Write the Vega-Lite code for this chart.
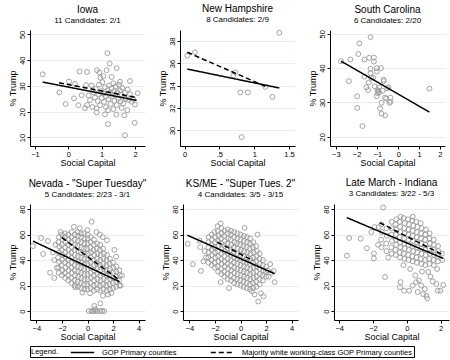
{
"$schema": "https://vega.github.io/schema/vega-lite/v6.json",
"background": "white",
"padding": {"left": 7, "top": 3, "right": 1, "bottom": 1},
"datasets": {
"ia": [{"x":-0.77,"y":34.5},{"x":-0.27,"y":27.5},{"x":-0.08,"y":23},{"x":0.02,"y":31.7},{"x":0.17,"y":25.2},{"x":0.2,"y":30.8},{"x":0.34,"y":35.6},{"x":0.56,"y":35.4},{"x":0.5,"y":21.4},{"x":0.56,"y":22.6},{"x":0.53,"y":30.3},{"x":0.61,"y":26.3},{"x":0.86,"y":36.1},{"x":0.93,"y":35.2},{"x":0.96,"y":33.2},{"x":1.17,"y":42.7},{"x":1.24,"y":38.7},{"x":1.15,"y":36.1},{"x":1.45,"y":36.9},{"x":1.19,"y":20.6},{"x":1.19,"y":15.2},{"x":1.44,"y":18.9},{"x":1.7,"y":10.9},{"x":1.68,"y":18.6},{"x":1.77,"y":20.6},{"x":1.85,"y":31.9},{"x":1.99,"y":15.7},{"x":2.08,"y":27.2},{"x":1.9,"y":23.9},{"x":0.85,"y":19.7},{"x":0.85,"y":21.3},{"x":0.75,"y":27.5},{"x":0.8,"y":25.5},{"x":0.82,"y":28.8},{"x":0.88,"y":24.2},{"x":0.9,"y":26.8},{"x":0.92,"y":30.5},{"x":0.95,"y":22.5},{"x":0.98,"y":28},{"x":1.0,"y":25.3},{"x":1.02,"y":31.5},{"x":1.05,"y":27},{"x":1.07,"y":23.8},{"x":1.1,"y":29.5},{"x":1.12,"y":26},{"x":1.13,"y":21.8},{"x":1.18,"y":28.3},{"x":1.2,"y":24.8},{"x":1.22,"y":30.2},{"x":1.25,"y":27.4},{"x":1.27,"y":23},{"x":1.3,"y":29},{"x":1.32,"y":25.9},{"x":1.35,"y":31},{"x":1.37,"y":28},{"x":1.38,"y":24.2},{"x":1.4,"y":26.6},{"x":1.42,"y":29.8},{"x":1.45,"y":22.6},{"x":1.47,"y":27.5},{"x":1.5,"y":25},{"x":1.52,"y":30.5},{"x":1.55,"y":28.3},{"x":1.57,"y":24},{"x":1.6,"y":26.5},{"x":1.62,"y":29.2},{"x":1.65,"y":23.2},{"x":1.7,"y":27.3},{"x":1.72,"y":25},{"x":1.78,"y":28.6},{"x":1.8,"y":24.6},{"x":1.85,"y":26.8},{"x":1.95,"y":24.9},{"x":2.0,"y":22.8},{"x":0.65,"y":24.5},{"x":0.7,"y":30.2},{"x":0.72,"y":21.8},{"x":1.05,"y":33.8},{"x":1.3,"y":33.5},{"x":1.55,"y":31.6},{"x":0.4,"y":26.4},{"x":0.3,"y":22.5},{"x":1.1,"y":19},{"x":1.35,"y":21},{"x":1.6,"y":21.5}],
"nh": [{"x":0.04,"y":36.7},{"x":0.15,"y":37.0},{"x":0.73,"y":35.2},{"x":0.7,"y":34.9},{"x":0.8,"y":33.4},{"x":0.91,"y":33.4},{"x":1.16,"y":33.9},{"x":1.26,"y":33.0},{"x":1.36,"y":38.75},{"x":0.82,"y":29.4}],
"sc": [{"x":-2.75,"y":42.0},{"x":-2.3,"y":42.5},{"x":-2.37,"y":36.2},{"x":-1.97,"y":31.8},{"x":-1.97,"y":28.4},{"x":-1.72,"y":23.1},{"x":-1.87,"y":47.2},{"x":-1.92,"y":44.1},{"x":-1.62,"y":42.5},{"x":-1.4,"y":43.0},{"x":-1.33,"y":49.0},{"x":-1.17,"y":43.1},{"x":-1.17,"y":41.9},{"x":-1.53,"y":34.4},{"x":-1.45,"y":33.6},{"x":-1.42,"y":35.8},{"x":-1.62,"y":37.5},{"x":-1.33,"y":39.8},{"x":-1.33,"y":38.5},{"x":-1.3,"y":37.2},{"x":-1.03,"y":40.0},{"x":-1.03,"y":39.0},{"x":-0.83,"y":40.0},{"x":-1.13,"y":34.7},{"x":-1.0,"y":33.6},{"x":-0.95,"y":33.4},{"x":-0.92,"y":34.4},{"x":-0.7,"y":36.6},{"x":-0.7,"y":36.2},{"x":-1.03,"y":31.8},{"x":-1.0,"y":32.7},{"x":-0.75,"y":33.4},{"x":-0.63,"y":31.4},{"x":-0.58,"y":31.1},{"x":-0.53,"y":34.1},{"x":-0.47,"y":34.4},{"x":-0.42,"y":29.9},{"x":-0.37,"y":31.4},{"x":-0.37,"y":30.2},{"x":-0.87,"y":28.2},{"x":-0.8,"y":26.7},{"x":-0.63,"y":26.2},{"x":-0.8,"y":29.9},{"x":1.5,"y":34.0},{"x":-0.92,"y":32.9},{"x":-1.2,"y":37.2}],
"nv": [{"x":-2.25,"y":30},{"x":-2.28,"y":34},{"x":-2.22,"y":38.5},{"x":-2.3,"y":42},{"x":-2.24,"y":46},{"x":-2.2,"y":50.5},{"x":-2.27,"y":54},{"x":-2.23,"y":58},
{"x":-2.0,"y":28},{"x":-1.97,"y":32},{"x":-2.03,"y":36},{"x":-2.0,"y":40.5},{"x":-1.98,"y":44},{"x":-2.02,"y":48},{"x":-2.0,"y":52},{"x":-1.96,"y":56.5},{"x":-2.01,"y":60},
{"x":-1.75,"y":26},{"x":-1.77,"y":30},{"x":-1.73,"y":34},{"x":-1.75,"y":38},{"x":-1.76,"y":42.5},{"x":-1.74,"y":46},{"x":-1.75,"y":50},{"x":-1.72,"y":54},{"x":-1.78,"y":58},{"x":-1.75,"y":61},
{"x":-1.5,"y":24},{"x":-1.52,"y":28},{"x":-1.48,"y":32},{"x":-1.5,"y":36.5},{"x":-1.51,"y":40},{"x":-1.49,"y":44},{"x":-1.5,"y":48},{"x":-1.53,"y":52},{"x":-1.47,"y":56},{"x":-1.5,"y":60},
{"x":-1.25,"y":22},{"x":-1.27,"y":26},{"x":-1.23,"y":30},{"x":-1.25,"y":34},{"x":-1.26,"y":38},{"x":-1.24,"y":42},{"x":-1.25,"y":46},{"x":-1.22,"y":50},{"x":-1.28,"y":54},{"x":-1.25,"y":58},{"x":-1.24,"y":62},
{"x":-1.0,"y":20},{"x":-1.02,"y":24},{"x":-0.98,"y":28},{"x":-1.0,"y":32},{"x":-1.01,"y":36},{"x":-0.99,"y":40},{"x":-1.0,"y":44},{"x":-1.03,"y":48},{"x":-0.97,"y":52},{"x":-1.0,"y":56},{"x":-1.0,"y":60},
{"x":-0.75,"y":19},{"x":-0.77,"y":23},{"x":-0.73,"y":27},{"x":-0.75,"y":31},{"x":-0.76,"y":35},{"x":-0.74,"y":39},{"x":-0.75,"y":43},{"x":-0.72,"y":47},{"x":-0.78,"y":51},{"x":-0.75,"y":55},{"x":-0.74,"y":59},{"x":-0.76,"y":62},
{"x":-0.5,"y":18},{"x":-0.52,"y":22},{"x":-0.48,"y":26},{"x":-0.5,"y":30},{"x":-0.51,"y":34},{"x":-0.49,"y":38},{"x":-0.5,"y":42},{"x":-0.53,"y":46},{"x":-0.47,"y":50},{"x":-0.5,"y":54},{"x":-0.5,"y":58},{"x":-0.51,"y":61},
{"x":-0.25,"y":17},{"x":-0.27,"y":21},{"x":-0.23,"y":25},{"x":-0.25,"y":29},{"x":-0.26,"y":33},{"x":-0.24,"y":37},{"x":-0.25,"y":41},{"x":-0.22,"y":45},{"x":-0.28,"y":49},{"x":-0.25,"y":53},{"x":-0.24,"y":57},{"x":-0.26,"y":61},
{"x":0.0,"y":17},{"x":-0.02,"y":21},{"x":0.02,"y":25},{"x":0.0,"y":29},{"x":0.01,"y":33},{"x":-0.01,"y":37},{"x":0.0,"y":41},{"x":0.03,"y":45},{"x":-0.03,"y":49},{"x":0.0,"y":53},{"x":0.01,"y":57},{"x":0.0,"y":60},
{"x":0.25,"y":18},{"x":0.23,"y":22},{"x":0.27,"y":26},{"x":0.25,"y":30},{"x":0.26,"y":34},{"x":0.24,"y":38},{"x":0.25,"y":42},{"x":0.28,"y":46},{"x":0.22,"y":50},{"x":0.25,"y":54},{"x":0.26,"y":58},
{"x":0.5,"y":16},{"x":0.48,"y":20},{"x":0.52,"y":24},{"x":0.5,"y":28},{"x":0.51,"y":32},{"x":0.49,"y":36},{"x":0.5,"y":40},{"x":0.53,"y":44},{"x":0.47,"y":48},{"x":0.5,"y":52},{"x":0.5,"y":56},
{"x":0.75,"y":17},{"x":0.73,"y":21},{"x":0.77,"y":25},{"x":0.75,"y":29},{"x":0.76,"y":33},{"x":0.74,"y":37},{"x":0.75,"y":41},{"x":0.78,"y":45},{"x":0.72,"y":49},{"x":0.75,"y":53},
{"x":1.0,"y":16},{"x":0.98,"y":20},{"x":1.02,"y":24},{"x":1.0,"y":28},{"x":1.01,"y":32},{"x":0.99,"y":36},{"x":1.0,"y":40},{"x":1.03,"y":44},{"x":0.97,"y":48},{"x":1.0,"y":52},
{"x":1.25,"y":17},{"x":1.23,"y":21},{"x":1.27,"y":25},{"x":1.25,"y":29},{"x":1.26,"y":33},{"x":1.24,"y":37},{"x":1.25,"y":41},{"x":1.28,"y":45},{"x":1.22,"y":49},
{"x":1.5,"y":16},{"x":1.48,"y":20},{"x":1.52,"y":24},{"x":1.5,"y":28},{"x":1.51,"y":32},{"x":1.49,"y":36},{"x":1.5,"y":40},{"x":1.53,"y":44},
{"x":1.75,"y":17},{"x":1.73,"y":21},{"x":1.77,"y":25},{"x":1.75,"y":29},{"x":1.76,"y":33},{"x":1.74,"y":37},{"x":1.75,"y":41},
{"x":2.0,"y":18},{"x":1.98,"y":22},{"x":2.02,"y":26},{"x":2.0,"y":30},{"x":2.01,"y":34},{"x":1.99,"y":38},
{"x":2.25,"y":19},{"x":2.23,"y":23},{"x":2.27,"y":27},{"x":2.25,"y":31},{"x":2.26,"y":35},
{"x":2.5,"y":20},{"x":2.48,"y":24},{"x":2.52,"y":28},{"x":2.5,"y":32},
{"x":-4.27,"y":51},{"x":-3.63,"y":57.3},{"x":-3.47,"y":44.8},{"x":-2.93,"y":30.1},{"x":0.32,"y":70.1},{"x":-1.07,"y":66.1},{"x":1.52,"y":55.5},{"x":2.24,"y":42.7},{"x":0.0,"y":63.5},{"x":0.95,"y":60},{"x":0.1,"y":0},{"x":0.3,"y":0},{"x":0.45,"y":0},{"x":0.6,"y":0},{"x":0.75,"y":0},{"x":1.0,"y":0},{"x":1.15,"y":0},{"x":1.3,"y":0},{"x":1.0,"y":6.1},{"x":0.53,"y":4},{"x":0.6,"y":1.5},{"x":-0.96,"y":18.7},{"x":1.87,"y":14.1},{"x":2.6,"y":20},{"x":-2.6,"y":40},{"x":-2.5,"y":52},{"x":-2.4,"y":34},{"x":-2.7,"y":46},{"x":1.2,"y":58},{"x":2.7,"y":28},{"x":1.6,"y":13},{"x":0.2,"y":14},{"x":-0.4,"y":14.5},{"x":2.1,"y":48},{"x":-2.1,"y":62},{"x":-0.6,"y":65},{"x":0.7,"y":62},{"x":-3.1,"y":55},{"x":-2.6,"y":26},{"x":1.2,"y":12}],
"ks": [{"x":-2.5,"y":38},{"x":-2.52,"y":42},{"x":-2.48,"y":46},{"x":-2.5,"y":50},{"x":-2.51,"y":54},{"x":-2.49,"y":58},
{"x":-2.25,"y":36},{"x":-2.27,"y":40},{"x":-2.23,"y":44},{"x":-2.25,"y":48},{"x":-2.26,"y":52},{"x":-2.24,"y":56},{"x":-2.25,"y":60},
{"x":-2.0,"y":34},{"x":-2.02,"y":38},{"x":-1.98,"y":42},{"x":-2.0,"y":46},{"x":-2.01,"y":50},{"x":-1.99,"y":54},{"x":-2.0,"y":58},{"x":-2.03,"y":62},
{"x":-1.75,"y":31},{"x":-1.77,"y":35},{"x":-1.73,"y":39},{"x":-1.75,"y":43},{"x":-1.76,"y":47},{"x":-1.74,"y":51},{"x":-1.75,"y":55},{"x":-1.72,"y":59},{"x":-1.78,"y":63},
{"x":-1.5,"y":29},{"x":-1.52,"y":33},{"x":-1.48,"y":37},{"x":-1.5,"y":41},{"x":-1.51,"y":45},{"x":-1.49,"y":49},{"x":-1.5,"y":53},{"x":-1.53,"y":57},{"x":-1.47,"y":61},{"x":-1.5,"y":65},
{"x":-1.25,"y":27},{"x":-1.27,"y":31},{"x":-1.23,"y":35},{"x":-1.25,"y":39},{"x":-1.26,"y":43},{"x":-1.24,"y":47},{"x":-1.25,"y":51},{"x":-1.22,"y":55},{"x":-1.28,"y":59},{"x":-1.25,"y":63},
{"x":-1.0,"y":25},{"x":-1.02,"y":29},{"x":-0.98,"y":33},{"x":-1.0,"y":37},{"x":-1.01,"y":41},{"x":-0.99,"y":45},{"x":-1.0,"y":49},{"x":-1.03,"y":53},{"x":-0.97,"y":57},{"x":-1.0,"y":61},{"x":-1.0,"y":64},
{"x":-0.75,"y":24},{"x":-0.77,"y":28},{"x":-0.73,"y":32},{"x":-0.75,"y":36},{"x":-0.76,"y":40},{"x":-0.74,"y":44},{"x":-0.75,"y":48},{"x":-0.72,"y":52},{"x":-0.78,"y":56},{"x":-0.75,"y":60},{"x":-0.74,"y":63},
{"x":-0.5,"y":22},{"x":-0.52,"y":26},{"x":-0.48,"y":30},{"x":-0.5,"y":34},{"x":-0.51,"y":38},{"x":-0.49,"y":42},{"x":-0.5,"y":46},{"x":-0.53,"y":50},{"x":-0.47,"y":54},{"x":-0.5,"y":58},{"x":-0.5,"y":62},
{"x":-0.25,"y":21},{"x":-0.27,"y":25},{"x":-0.23,"y":29},{"x":-0.25,"y":33},{"x":-0.26,"y":37},{"x":-0.24,"y":41},{"x":-0.25,"y":45},{"x":-0.22,"y":49},{"x":-0.28,"y":53},{"x":-0.25,"y":57},{"x":-0.24,"y":61},
{"x":0.0,"y":20},{"x":-0.02,"y":24},{"x":0.02,"y":28},{"x":0.0,"y":32},{"x":0.01,"y":36},{"x":-0.01,"y":40},{"x":0.0,"y":44},{"x":0.03,"y":48},{"x":-0.03,"y":52},{"x":0.0,"y":56},{"x":0.0,"y":60},
{"x":0.25,"y":19},{"x":0.23,"y":23},{"x":0.27,"y":27},{"x":0.25,"y":31},{"x":0.26,"y":35},{"x":0.24,"y":39},{"x":0.25,"y":43},{"x":0.28,"y":47},{"x":0.22,"y":51},{"x":0.25,"y":55},{"x":0.26,"y":59},
{"x":0.5,"y":18},{"x":0.48,"y":22},{"x":0.52,"y":26},{"x":0.5,"y":30},{"x":0.51,"y":34},{"x":0.49,"y":38},{"x":0.5,"y":42},{"x":0.53,"y":46},{"x":0.47,"y":50},{"x":0.5,"y":54},{"x":0.5,"y":58},
{"x":0.75,"y":17},{"x":0.73,"y":21},{"x":0.77,"y":25},{"x":0.75,"y":29},{"x":0.76,"y":33},{"x":0.74,"y":37},{"x":0.75,"y":41},{"x":0.78,"y":45},{"x":0.72,"y":49},{"x":0.75,"y":53},{"x":0.75,"y":57},
{"x":1.0,"y":18},{"x":0.98,"y":22},{"x":1.02,"y":26},{"x":1.0,"y":30},{"x":1.01,"y":34},{"x":0.99,"y":38},{"x":1.0,"y":42},{"x":1.03,"y":46},{"x":0.97,"y":50},{"x":1.0,"y":54},
{"x":1.25,"y":19},{"x":1.23,"y":23},{"x":1.27,"y":27},{"x":1.25,"y":31},{"x":1.26,"y":35},{"x":1.24,"y":39},{"x":1.25,"y":43},{"x":1.28,"y":47},{"x":1.22,"y":51},
{"x":1.5,"y":21},{"x":1.48,"y":25},{"x":1.52,"y":29},{"x":1.5,"y":33},{"x":1.51,"y":37},{"x":1.49,"y":41},{"x":1.5,"y":45},
{"x":1.75,"y":24},{"x":1.73,"y":28},{"x":1.77,"y":32},{"x":1.75,"y":36},{"x":1.76,"y":40},
{"x":2.0,"y":27},{"x":1.98,"y":31},{"x":2.02,"y":35},
{"x":-4.13,"y":52.8},{"x":-3.73,"y":36.8},{"x":-3.15,"y":50.1},{"x":-3.2,"y":55.2},{"x":-3.1,"y":31.5},{"x":-1.55,"y":68.8},{"x":-1.55,"y":22.7},{"x":0.32,"y":65.3},{"x":1.33,"y":60},{"x":1.39,"y":7.5},{"x":1.79,"y":11.5},{"x":2.67,"y":22.7},{"x":2.32,"y":36.8},{"x":2.13,"y":32},{"x":2.6,"y":31.5},{"x":-2.8,"y":47},{"x":-2.7,"y":42},{"x":-1.8,"y":66.5},{"x":1.6,"y":14},{"x":1.1,"y":13},{"x":0.9,"y":15.5},{"x":-0.9,"y":18},{"x":2.2,"y":27},{"x":2.4,"y":30},{"x":-2.9,"y":39}],
"in": [{"x":-1.5,"y":50},{"x":-1.52,"y":56},{"x":-1.48,"y":62},{"x":-1.5,"y":68},
{"x":-1.2,"y":47},{"x":-1.22,"y":53},{"x":-1.18,"y":59},{"x":-1.2,"y":65},
{"x":-0.9,"y":45},{"x":-0.92,"y":50},{"x":-0.88,"y":55},{"x":-0.9,"y":60},{"x":-0.91,"y":65},{"x":-0.89,"y":70},
{"x":-0.65,"y":44},{"x":-0.67,"y":48},{"x":-0.63,"y":52},{"x":-0.65,"y":56},{"x":-0.66,"y":60},{"x":-0.64,"y":64},{"x":-0.65,"y":68},{"x":-0.62,"y":72},
{"x":-0.4,"y":42},{"x":-0.42,"y":46},{"x":-0.38,"y":50},{"x":-0.4,"y":54},{"x":-0.41,"y":58},{"x":-0.39,"y":62},{"x":-0.4,"y":66},{"x":-0.43,"y":70},{"x":-0.37,"y":74},
{"x":-0.15,"y":41},{"x":-0.17,"y":45},{"x":-0.13,"y":49},{"x":-0.15,"y":53},{"x":-0.16,"y":57},{"x":-0.14,"y":61},{"x":-0.15,"y":65},{"x":-0.12,"y":69},{"x":-0.18,"y":73},
{"x":0.1,"y":40},{"x":0.08,"y":44},{"x":0.12,"y":48},{"x":0.1,"y":52},{"x":0.11,"y":56},{"x":0.09,"y":60},{"x":0.1,"y":64},{"x":0.13,"y":68},{"x":0.07,"y":72},
{"x":0.35,"y":39},{"x":0.33,"y":43},{"x":0.37,"y":47},{"x":0.35,"y":51},{"x":0.36,"y":55},{"x":0.34,"y":59},{"x":0.35,"y":63},{"x":0.38,"y":67},{"x":0.32,"y":71},{"x":0.35,"y":74},
{"x":0.6,"y":38},{"x":0.58,"y":42},{"x":0.62,"y":46},{"x":0.6,"y":50},{"x":0.61,"y":54},{"x":0.59,"y":58},{"x":0.6,"y":62},{"x":0.63,"y":66},{"x":0.57,"y":70},
{"x":0.85,"y":37},{"x":0.83,"y":41},{"x":0.87,"y":45},{"x":0.85,"y":49},{"x":0.86,"y":53},{"x":0.84,"y":57},{"x":0.85,"y":61},{"x":0.88,"y":65},{"x":0.82,"y":69},
{"x":1.1,"y":36},{"x":1.08,"y":40},{"x":1.12,"y":44},{"x":1.1,"y":48},{"x":1.11,"y":52},{"x":1.09,"y":56},{"x":1.1,"y":60},{"x":1.13,"y":64},
{"x":1.35,"y":37},{"x":1.33,"y":41},{"x":1.37,"y":45},{"x":1.35,"y":49},{"x":1.36,"y":53},{"x":1.34,"y":57},{"x":1.35,"y":61},
{"x":1.6,"y":36},{"x":1.58,"y":40},{"x":1.62,"y":44},{"x":1.6,"y":48},{"x":1.61,"y":52},{"x":1.59,"y":56},
{"x":1.85,"y":39},{"x":1.83,"y":43},{"x":1.87,"y":47},{"x":1.85,"y":51},
{"x":2.1,"y":40},{"x":2.08,"y":45},
{"x":-0.37,"y":22.7},{"x":-0.41,"y":18.7},{"x":-0.16,"y":16},{"x":0.14,"y":16},{"x":0.35,"y":20},{"x":0.55,"y":22.7},{"x":0.72,"y":24},{"x":0.86,"y":20},{"x":0.97,"y":13.3},{"x":1.17,"y":12},{"x":1.07,"y":17.3},{"x":1.21,"y":9.9},{"x":1.54,"y":23.2},{"x":1.75,"y":21.3},{"x":1.83,"y":16},{"x":1.99,"y":16},{"x":2.16,"y":20.5},{"x":1.27,"y":30.7},{"x":0.5,"y":28},{"x":0.9,"y":31},{"x":1.4,"y":27},{"x":0.2,"y":33},{"x":-0.2,"y":36},{"x":1.8,"y":33},{"x":0.65,"y":15},
{"x":-3.55,"y":43.5},{"x":-3.41,"y":57.3},{"x":-2.73,"y":56.8},{"x":-2.36,"y":49.3},{"x":-1.95,"y":45.3},{"x":-1.95,"y":41.3},{"x":-1.4,"y":81.3},{"x":-1.29,"y":26.7},{"x":-1.91,"y":65.9},{"x":-1.66,"y":65.9},{"x":-1.7,"y":52},{"x":-1.1,"y":42},{"x":-2.1,"y":62}],
"lines": [
{"p":"IA","s":"GOP Primary counties","x":-0.77,"y":31.5},{"p":"IA","s":"GOP Primary counties","x":2.05,"y":24.4},
{"p":"IA","s":"Majority white working-class GOP Primary counties","x":-0.28,"y":31.2},{"p":"IA","s":"Majority white working-class GOP Primary counties","x":2.05,"y":25.5},
{"p":"NH","s":"GOP Primary counties","x":0.04,"y":35.5},{"p":"NH","s":"GOP Primary counties","x":1.36,"y":33.8},
{"p":"NH","s":"Majority white working-class GOP Primary counties","x":0.04,"y":37.0},{"p":"NH","s":"Majority white working-class GOP Primary counties","x":1.16,"y":33.95},
{"p":"SC","s":"GOP Primary counties","x":-2.75,"y":42.0},{"p":"SC","s":"GOP Primary counties","x":1.5,"y":27.2},
{"p":"NV","s":"GOP Primary counties","x":-4.27,"y":54.9},{"p":"NV","s":"GOP Primary counties","x":2.51,"y":23.0},
{"p":"NV","s":"Majority white working-class GOP Primary counties","x":-2.0,"y":57.6},{"p":"NV","s":"Majority white working-class GOP Primary counties","x":2.51,"y":24.2},
{"p":"KS","s":"GOP Primary counties","x":-4.16,"y":59.5},{"p":"KS","s":"GOP Primary counties","x":2.67,"y":29.3},
{"p":"KS","s":"Majority white working-class GOP Primary counties","x":-1.81,"y":54.1},{"p":"KS","s":"Majority white working-class GOP Primary counties","x":1.0,"y":39.5},
{"p":"IN","s":"GOP Primary counties","x":-3.55,"y":73.3},{"p":"IN","s":"GOP Primary counties","x":2.16,"y":41.3},
{"p":"IN","s":"Majority white working-class GOP Primary counties","x":-1.6,"y":69.3},{"p":"IN","s":"Majority white working-class GOP Primary counties","x":2.16,"y":44}
]
},
"spacing": 10,
"vconcat": [
{"hconcat": [
{"title": {"text": "Iowa", "subtitle": "11 Candidates: 2/1"}, "width": 115, "height": 116, "layer": [
 {"data": {"name": "ia"}, "mark": {"type": "point", "shape": "circle", "size": 24, "strokeWidth": 0.9, "color": "#9a9a9a", "opacity": 1},
  "encoding": {"x": {"field": "x", "type": "quantitative", "title": "Social Capital", "scale": {"domain": [-1.15, 2.3], "nice": false, "zero": false}, "axis": {"values": [-1, 0, 1, 2], "format": "d", "tickCount": 20, "labelOverlap": false, "labelFlush": false}},
   "y": {"field": "y", "type": "quantitative", "title": "% Trump", "scale": {"domain": [6.7, 51.7], "nice": false, "zero": false}, "axis": {"values": [10, 20, 30, 40, 50], "format": "d", "tickCount": 20, "labelOverlap": false, "labelFlush": false}}}},
 {"data": {"name": "lines"}, "transform": [{"filter": "datum.p == 'IA'"}], "mark": {"type": "line", "color": "black", "strokeWidth": 1.5},
  "encoding": {"x": {"field": "x", "type": "quantitative", "title": "Social Capital"}, "y": {"field": "y", "type": "quantitative", "title": "% Trump"},
   "strokeDash": {"field": "s", "type": "nominal", "scale": {"domain": ["GOP Primary counties", "Majority white working-class GOP Primary counties"], "range": [[1, 0], [5, 3]]}, "legend": {"title": "Legend."}}}}
]},
{"title": {"text": "New Hampshire", "subtitle": "8 Candidates: 2/9"}, "width": 115, "height": 116, "layer": [
 {"data": {"name": "nh"}, "mark": {"type": "point", "shape": "circle", "size": 24, "strokeWidth": 0.9, "color": "#9a9a9a", "opacity": 1},
  "encoding": {"x": {"field": "x", "type": "quantitative", "title": "Social Capital", "scale": {"domain": [-0.065, 1.585], "nice": false, "zero": false}, "axis": {"values": [0, 0.5, 1, 1.5], "tickCount": 20, "labelExpr": "datum.value == 0.5 ? '.5' : format(datum.value, '~g')", "labelOverlap": false, "labelFlush": false}},
   "y": {"field": "y", "type": "quantitative", "title": "% Trump", "scale": {"domain": [28.6, 39.0], "nice": false, "zero": false}, "axis": {"values": [30, 32, 34, 36, 38], "format": "d", "tickCount": 20, "labelOverlap": false, "labelFlush": false}}}},
 {"data": {"name": "lines"}, "transform": [{"filter": "datum.p == 'NH'"}], "mark": {"type": "line", "color": "black", "strokeWidth": 1.5},
  "encoding": {"x": {"field": "x", "type": "quantitative", "title": "Social Capital"}, "y": {"field": "y", "type": "quantitative", "title": "% Trump"},
   "strokeDash": {"field": "s", "type": "nominal", "scale": {"domain": ["GOP Primary counties", "Majority white working-class GOP Primary counties"], "range": [[1, 0], [5, 3]]}, "legend": {"title": "Legend."}}}}
]},
{"title": {"text": "South Carolina", "subtitle": "6 Candidates: 2/20"}, "width": 115, "height": 116, "layer": [
 {"data": {"name": "sc"}, "mark": {"type": "point", "shape": "circle", "size": 24, "strokeWidth": 0.9, "color": "#9a9a9a", "opacity": 1},
  "encoding": {"x": {"field": "x", "type": "quantitative", "title": "Social Capital", "scale": {"domain": [-3.28, 2.25], "nice": false, "zero": false}, "axis": {"values": [-3, -2, -1, 0, 1, 2], "format": "d", "tickCount": 20, "labelOverlap": false, "labelFlush": false}},
   "y": {"field": "y", "type": "quantitative", "title": "% Trump", "scale": {"domain": [17.3, 51.1], "nice": false, "zero": false}, "axis": {"values": [20, 30, 40, 50], "format": "d", "tickCount": 20, "labelOverlap": false, "labelFlush": false}}}},
 {"data": {"name": "lines"}, "transform": [{"filter": "datum.p == 'SC'"}], "mark": {"type": "line", "color": "black", "strokeWidth": 1.5},
  "encoding": {"x": {"field": "x", "type": "quantitative", "title": "Social Capital"}, "y": {"field": "y", "type": "quantitative", "title": "% Trump"},
   "strokeDash": {"field": "s", "type": "nominal", "scale": {"domain": ["GOP Primary counties", "Majority white working-class GOP Primary counties"], "range": [[1, 0], [5, 3]]}, "legend": {"title": "Legend."}}}}
]}
], "spacing": 13},
{"hconcat": [
{"title": {"text": "Nevada - \"Super Tuesday\"", "subtitle": "5 Candidates: 2/23 - 3/1"}, "width": 115, "height": 116, "layer": [
 {"data": {"name": "nv"}, "mark": {"type": "point", "shape": "circle", "size": 24, "strokeWidth": 0.9, "color": "#9a9a9a", "opacity": 1},
  "encoding": {"x": {"field": "x", "type": "quantitative", "title": "Social Capital", "scale": {"domain": [-4.5, 4.5], "nice": false, "zero": false}, "axis": {"values": [-4, -2, 0, 2, 4], "format": "d", "tickCount": 20, "labelOverlap": false, "labelFlush": false}},
   "y": {"field": "y", "type": "quantitative", "title": "% Trump", "scale": {"domain": [-7, 84], "nice": false, "zero": false}, "axis": {"values": [0, 20, 40, 60, 80], "format": "d", "tickCount": 20, "labelOverlap": false, "labelFlush": false}}}},
 {"data": {"name": "lines"}, "transform": [{"filter": "datum.p == 'NV'"}], "mark": {"type": "line", "color": "black", "strokeWidth": 1.5},
  "encoding": {"x": {"field": "x", "type": "quantitative", "title": "Social Capital"}, "y": {"field": "y", "type": "quantitative", "title": "% Trump"},
   "strokeDash": {"field": "s", "type": "nominal", "scale": {"domain": ["GOP Primary counties", "Majority white working-class GOP Primary counties"], "range": [[1, 0], [5, 3]]}, "legend": {"title": "Legend."}}}}
]},
{"title": {"text": "KS/ME - \"Super Tues. 2\"", "subtitle": "4 Candidates: 3/5 - 3/15"}, "width": 115, "height": 116, "layer": [
 {"data": {"name": "ks"}, "mark": {"type": "point", "shape": "circle", "size": 24, "strokeWidth": 0.9, "color": "#9a9a9a", "opacity": 1},
  "encoding": {"x": {"field": "x", "type": "quantitative", "title": "Social Capital", "scale": {"domain": [-4.5, 4.5], "nice": false, "zero": false}, "axis": {"values": [-4, -2, 0, 2, 4], "format": "d", "tickCount": 20, "labelOverlap": false, "labelFlush": false}},
   "y": {"field": "y", "type": "quantitative", "title": "% Trump", "scale": {"domain": [-7, 84], "nice": false, "zero": false}, "axis": {"values": [0, 20, 40, 60, 80], "format": "d", "tickCount": 20, "labelOverlap": false, "labelFlush": false}}}},
 {"data": {"name": "lines"}, "transform": [{"filter": "datum.p == 'KS'"}], "mark": {"type": "line", "color": "black", "strokeWidth": 1.5},
  "encoding": {"x": {"field": "x", "type": "quantitative", "title": "Social Capital"}, "y": {"field": "y", "type": "quantitative", "title": "% Trump"},
   "strokeDash": {"field": "s", "type": "nominal", "scale": {"domain": ["GOP Primary counties", "Majority white working-class GOP Primary counties"], "range": [[1, 0], [5, 3]]}, "legend": {"title": "Legend."}}}}
]},
{"title": {"text": "Late March - Indiana", "subtitle": "3 Candidates: 3/22 - 5/3"}, "width": 115, "height": 116, "layer": [
 {"data": {"name": "in"}, "mark": {"type": "point", "shape": "circle", "size": 24, "strokeWidth": 0.9, "color": "#9a9a9a", "opacity": 1},
  "encoding": {"x": {"field": "x", "type": "quantitative", "title": "Social Capital", "scale": {"domain": [-4.31, 2.5], "nice": false, "zero": false}, "axis": {"values": [-4, -2, 0, 2], "format": "d", "tickCount": 20, "labelOverlap": false, "labelFlush": false}},
   "y": {"field": "y", "type": "quantitative", "title": "% Trump", "scale": {"domain": [-7, 84], "nice": false, "zero": false}, "axis": {"values": [0, 20, 40, 60, 80], "format": "d", "tickCount": 20, "labelOverlap": false, "labelFlush": false}}}},
 {"data": {"name": "lines"}, "transform": [{"filter": "datum.p == 'IN'"}], "mark": {"type": "line", "color": "black", "strokeWidth": 1.5},
  "encoding": {"x": {"field": "x", "type": "quantitative", "title": "Social Capital"}, "y": {"field": "y", "type": "quantitative", "title": "% Trump"},
   "strokeDash": {"field": "s", "type": "nominal", "scale": {"domain": ["GOP Primary counties", "Majority white working-class GOP Primary counties"], "range": [[1, 0], [5, 3]]}, "legend": {"title": "Legend."}}}}
]}
], "spacing": 13}
],
"config": {
 "font": "Liberation Sans",
 "view": {"stroke": null},
 "title": {"fontSize": 10, "fontWeight": "normal", "subtitleFontSize": 8, "subtitleColor": "black", "color": "black", "offset": 5, "subtitlePadding": 2, "frame": "group", "anchor": "middle"},
 "axis": {"labelFontSize": 7.5, "titleFontSize": 9, "titleFontWeight": "normal", "domainColor": "black", "tickColor": "black", "labelColor": "black", "titleColor": "black", "tickSize": 3, "gridColor": "#e6eff1", "labelPadding": 1, "titlePadding": 1, "labelFont": "Liberation Sans", "titleFont": "Liberation Sans", "labelOverlap": false},
 "axisX": {"grid": false},
 "axisY": {"grid": true, "labelAngle": 270, "labelAlign": "center"},
 "legend": {"orient": "bottom", "direction": "horizontal", "titleOrient": "left", "titleBaseline": "middle", "labelFontSize": 7.5, "titleFontSize": 7.5, "titleFontWeight": "normal", "titleColor": "black", "labelColor": "black", "symbolType": "M-2.6,0H2.6", "symbolSize": 81, "symbolStrokeWidth": 1.5, "symbolStrokeColor": "black", "labelOffset": 14, "strokeColor": "black", "padding": 1, "columnPadding": 30, "labelLimit": 300, "offset": 4, "titlePadding": 18}
}
}
